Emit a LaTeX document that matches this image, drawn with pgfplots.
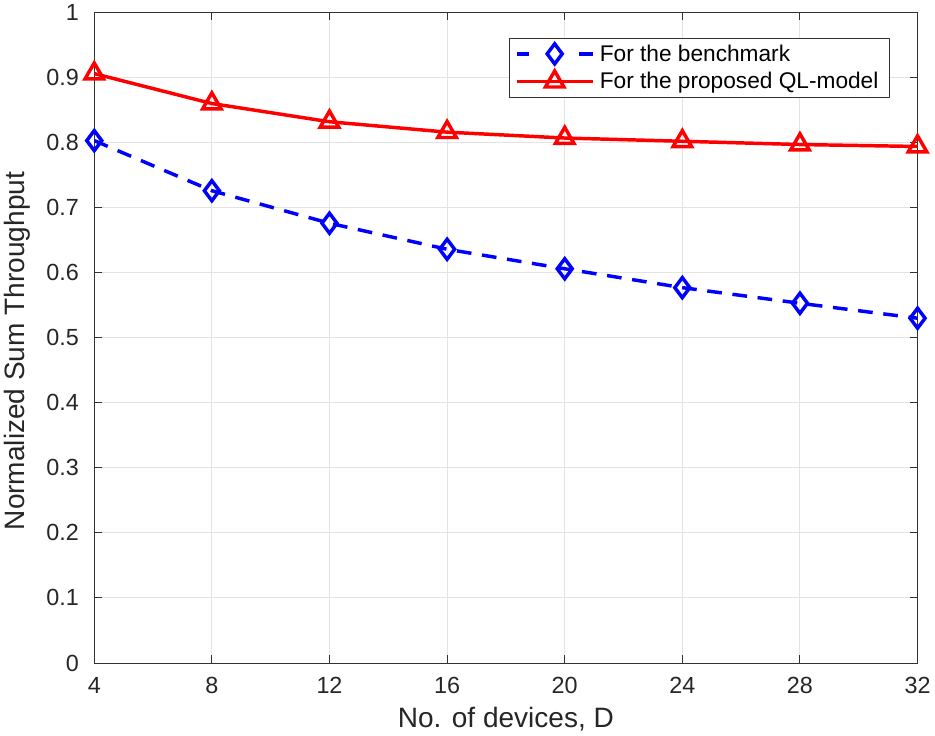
\documentclass[border=0pt]{standalone}
\usepackage{pgfplots}
\pgfplotsset{compat=1.18}
\usepackage{fontspec}
\setmainfont{Liberation Sans}
\begin{document}
\begin{tikzpicture}
\begin{axis}[
  scale only axis,
  width=617pt, height=487.5pt,
  xmin=4, xmax=32, ymin=0, ymax=1,
  xtick={4,8,...,32},
  ytick={0,0.1,...,1},
  yticklabels={0,0.1,0.2,0.3,0.4,0.5,0.6,0.7,0.8,0.9,1},
  /pgf/number format/assume math mode=true,
  tick label style={font=\fontsize{17.5}{19}\selectfont, color=black!85},
  yticklabel style={xshift=-8pt},
  xticklabel style={yshift=-7pt},
  label style={font=\fontsize{21}{23}\selectfont, color=black!85},
  xlabel={No. of devices, D},
  ylabel={Normalized Sum Throughput},
  xlabel style={yshift=-3pt},
  ylabel style={yshift=5pt, xshift=-10pt},
  grid=major,
  major grid style={color=black!11, line width=0.7pt},
  axis line style={color=black!80, line width=0.7pt},
  tick style={color=black!80, line width=0.7pt},
  tick align=inside,
  major tick length=6pt,
  legend style={at={(0.966,0.9615)}, anchor=north east, draw=black!80, line width=0.7pt,
    font=\fontsize{17}{19}\selectfont, inner xsep=4pt, inner ysep=3pt, row sep=3pt,
    nodes={inner xsep=4pt}, cells={anchor=west}},
  legend cell align=left,
]
\addplot[color=blue, line width=2.6pt, dash pattern=on 11pt off 8pt, mark=diamond, mark size=7.5pt,
  mark options={solid, line width=2.6pt},
  legend image code/.code={
    \draw[dash pattern=on 9pt off 38pt on 10pt off 0pt] (0pt,0pt) -- (57pt,0pt);
    \draw[solid] plot[mark=diamond, mark size=7.5pt] coordinates {(28.5pt,0pt)};
  }]
  coordinates {(4,0.803) (8,0.726) (12,0.676) (16,0.636) (20,0.606) (24,0.577) (28,0.553) (32,0.530)};
\addlegendentry{For the benchmark}
\addplot[color=red, line width=2.6pt, mark=triangle, mark size=8pt, mark options={solid, line width=2.6pt},
  legend image code/.code={
    \draw (0pt,0pt) -- (57pt,0pt);
    \draw plot[mark=triangle, mark size=8pt] coordinates {(28.5pt,0pt)};
  }]
  coordinates {(4,0.906) (8,0.860) (12,0.832) (16,0.816) (20,0.807) (24,0.802) (28,0.797) (32,0.794)};
\addlegendentry{For the proposed QL-model}
\end{axis}
\end{tikzpicture}
\end{document}
